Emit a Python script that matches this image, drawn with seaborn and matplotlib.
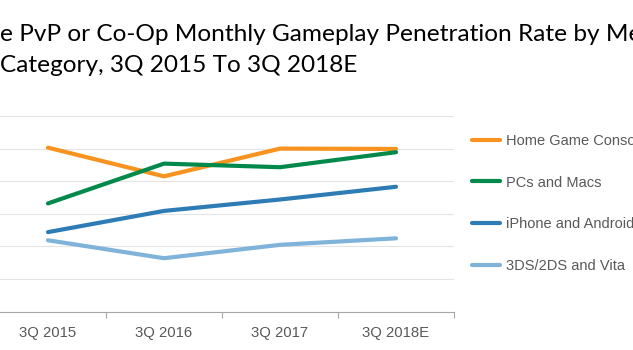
import numpy as np
import pandas as pd
import matplotlib
matplotlib.use("Agg")
import matplotlib.pyplot as plt
import seaborn as sns

# Values (penetration rate, %)
QUARTERS = ['3Q 2015', '3Q 2016', '3Q 2017', '3Q 2018E']
SERIES = ['Home Game Consoles', 'PCs and Macs', 'iPhone and Android', '3DS/2DS and Vita']
consoles = [50.3, 41.5, 50.0, 49.9]
pcs_macs = [33.2, 45.4, 44.3, 48.9]
iphone_android = [24.4, 30.9, 34.4, 38.3]
handhelds = [21.9, 16.4, 20.5, 22.5]

TITLE_LINE1 = 'e PvP or Co-Op Monthly Gameplay Penetration Rate by Media'
TITLE_LINE2 = 'Category, 3Q 2015 To 3Q 2018E'

COLORS = {'Home Game Consoles': '#F7931E', 'PCs and Macs': '#00894B',
          'iPhone and Android': '#2E7CB6', '3DS/2DS and Vita': '#7FB3DA'}
GRAY = '#595959'

df = pd.DataFrame({
    'quarter': QUARTERS * 4,
    'device': np.repeat(SERIES, len(QUARTERS)),
    'rate': consoles + pcs_macs + iphone_android + handhelds,
})

sns.set_theme(style='white')
plt.rcParams['font.family'] = ['Liberation Sans', 'DejaVu Sans']

fig = plt.figure(figsize=(6.33, 3.5), dpi=100)
# plot area runs slightly off the left edge, as in the cropped source
ax = fig.add_axes([-10 / 633, 38.3 / 350, 464 / 633, 195.7 / 350])

sns.lineplot(data=df, x='quarter', y='rate', hue='device', palette=COLORS,
             hue_order=SERIES, sort=False, linewidth=3.0, ax=ax,
             solid_capstyle='round', legend=True)

ax.set_xlim(-0.5, 3.5)
ax.set_ylim(0, 60)
ax.set_yticks(np.arange(0, 61, 10))
ax.set_yticklabels([])
ax.yaxis.grid(True, color='#E4E4E4', linewidth=0.8)
ax.set_axisbelow(True)
ax.tick_params(axis='y', length=0)

for side in ['top', 'right', 'left']:
    ax.spines[side].set_visible(False)
ax.spines['bottom'].set_color('#A6A6A6')
ax.spines['bottom'].set_linewidth(0.8)

ax.set_xticks(range(len(QUARTERS)))
ax.set_xticklabels(QUARTERS, color=GRAY, fontsize=10.7)
ax.set_xticks(np.arange(-0.5, len(QUARTERS)), minor=True)
ax.tick_params(axis='x', which='major', length=0, pad=10)
ax.tick_params(axis='x', which='minor', length=4, color='#A6A6A6', width=0.8, direction='out', bottom=True)
ax.set_xlabel('')
ax.set_ylabel('')

handles, labels = ax.get_legend_handles_labels()
leg = ax.legend(handles, labels, loc='upper left', bbox_to_anchor=(466 / 633, 1 - 128 / 350),
                bbox_transform=fig.transFigure, frameon=False, fontsize=10.5,
                handlelength=1.95, handletextpad=0.4, labelspacing=1.9, borderaxespad=0)
for t in leg.get_texts():
    t.set_color(GRAY)
for h in leg.get_lines():
    h.set_linewidth(3.0)
    h.set_solid_capstyle('round')

fig.text(0, 1 - 40.7 / 350, TITLE_LINE1, fontsize=17.6, family=['Lato', 'DejaVu Sans'],
         color='black', ha='left', va='baseline')
fig.text(0, 1 - 71.7 / 350, TITLE_LINE2, fontsize=17.6, family=['Lato', 'DejaVu Sans'],
         color='black', ha='left', va='baseline')

fig.savefig('out.png', dpi=100)
